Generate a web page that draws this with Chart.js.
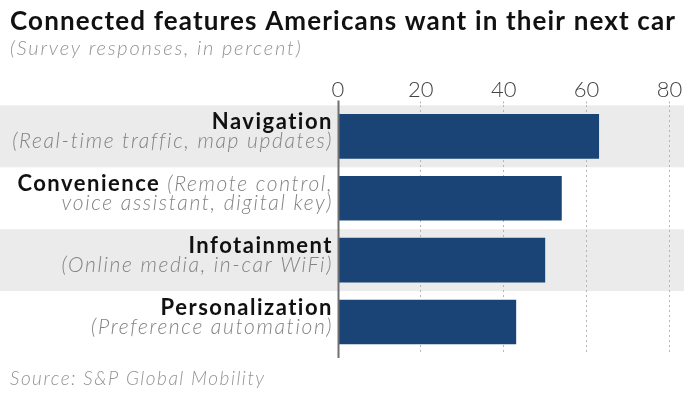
<!DOCTYPE html>
<html>
<head>
<meta charset="utf-8">
<script src="https://cdn.jsdelivr.net/npm/chart.js@4.4.0/dist/chart.umd.min.js"></script>
<style>
  html, body { margin: 0; padding: 0; background: #fff; }
</style>
</head>
<body>
<canvas id="chart-features" width="700" height="394"></canvas>
<script>
// data
var categories = ["Navigation", "Convenience", "Infotainment", "Personalization"];
var details = [
  ["(Real-time traffic, map updates)"],
  ["(Remote control,", "voice assistant, digital key)"],
  ["(Online media, in-car WiFi)"],
  ["(Preference automation)"]
];
var shares = [63, 54, 50, 43];
var xTicks = [0, 20, 40, 60, 80];

var titleText = "Connected features Americans want in their next car";
var subtitleText = "(Survey responses, in percent)";
var sourceText = "Source: S&P Global Mobility";

var FONT = "Lato, 'Open Sans', sans-serif";

// grey band behind every other row
var backgroundBands = {
  id: "backgroundBands",
  beforeDraw: function(chart) {
    var c = chart.ctx, y = chart.scales.y, area = chart.chartArea;
    var slot = y.getPixelForValue(1) - y.getPixelForValue(0);
    c.save();
    c.fillStyle = "#ebebeb";
    categories.forEach(function(cat, i) {
      if (i % 2) return;
      var cy = y.getPixelForValue(i);
      c.fillRect(0, cy - slot / 2, area.right, slot);
    });
    c.restore();
  }
};

function setSpacing(c, px) {
  if ("letterSpacing" in c) c.letterSpacing = px + "px";
}

var textLayer = {
  id: "textLayer",
  afterDraw: function(chart) {
    var c = chart.ctx, x = chart.scales.x, y = chart.scales.y, area = chart.chartArea;
    c.save();

    // zero line
    var x0 = Math.round(x.getPixelForValue(0)) + 0.5;
    c.strokeStyle = "#707070";
    c.lineWidth = 2;
    c.beginPath();
    c.moveTo(x0, area.top - 5);
    c.lineTo(x0, area.bottom + 5);
    c.stroke();

    // title + subtitle
    c.textBaseline = "alphabetic";
    c.textAlign = "left";
    c.fillStyle = "#111";
    c.font = "bold 26px " + FONT;
    setSpacing(c, 1.15);
    c.fillText(titleText, 10, 30);
    c.fillStyle = "#939393";
    c.font = "italic 300 20px " + FONT;
    setSpacing(c, 1.8);
    c.fillText(subtitleText, 10, 55);

    // category labels, right aligned next to the zero line
    var right = 333;
    var grey = "#838383";
    var boldFont = "bold 22px " + FONT;
    var itFont = "italic 300 21px " + FONT;
    categories.forEach(function(cat, i) {
      var cy = y.getPixelForValue(i);
      var lines = details[i];
      c.textAlign = "right";
      if (lines.length > 1) {
        c.font = itFont;
        setSpacing(c, 1.65);
        var w = c.measureText(" " + lines[0]).width;
        c.fillStyle = grey;
        c.fillText(" " + lines[0], right, cy - 7);
        c.fillText(lines[1], right, cy + 12);
        c.font = boldFont;
        setSpacing(c, 1.5);
        c.fillStyle = "#111";
        c.fillText(cat, right - w, cy - 7);
      } else {
        c.font = boldFont;
        setSpacing(c, 1.5);
        c.fillStyle = "#111";
        c.fillText(cat, right, cy - 7);
        c.font = itFont;
        setSpacing(c, 1.65);
        c.fillStyle = grey;
        c.fillText(lines[0], right, cy + 12);
      }
    });

    // source
    c.textAlign = "left";
    c.font = "italic 300 19px " + FONT;
    setSpacing(c, 1.5);
    c.fillStyle = "#939393";
    c.fillText(sourceText, 10, 385);
    c.restore();
  }
};

var ctx = document.getElementById("chart-features").getContext("2d");
new Chart(ctx, {
  type: "bar",
  data: {
    labels: categories,
    datasets: [{
      data: shares,
      backgroundColor: "#1b4476",
      borderWidth: 0,
      barPercentage: 0.72,
      categoryPercentage: 1
    }]
  },
  options: {
    indexAxis: "y",
    responsive: false,
    animation: false,
    layout: { padding: { left: 338, right: 16, top: 79, bottom: 41 } },
    plugins: {
      legend: { display: false },
      tooltip: { enabled: false }
    },
    scales: {
      x: {
        position: "top",
        min: 0,
        max: 83.5,
        afterBuildTicks: function(axis) {
          axis.ticks = xTicks.map(function(v) { return { value: v }; });
        },
        grid: {
          color: function(c) { return c.tick && c.tick.value === 0 ? "rgba(0,0,0,0)" : "#b5b5b5"; },
          lineWidth: 1,
          drawTicks: true,
          tickLength: 4,
          tickBorderDash: [2, 3]
        },
        border: { display: false, dash: [2, 3] },
        ticks: {
          padding: -2,
          color: "#444",
          font: { family: FONT, size: 22, weight: 300 }
        }
      },
      y: {
        display: false
      }
    }
  },
  plugins: [backgroundBands, textLayer]
});
</script>
</body>
</html>
